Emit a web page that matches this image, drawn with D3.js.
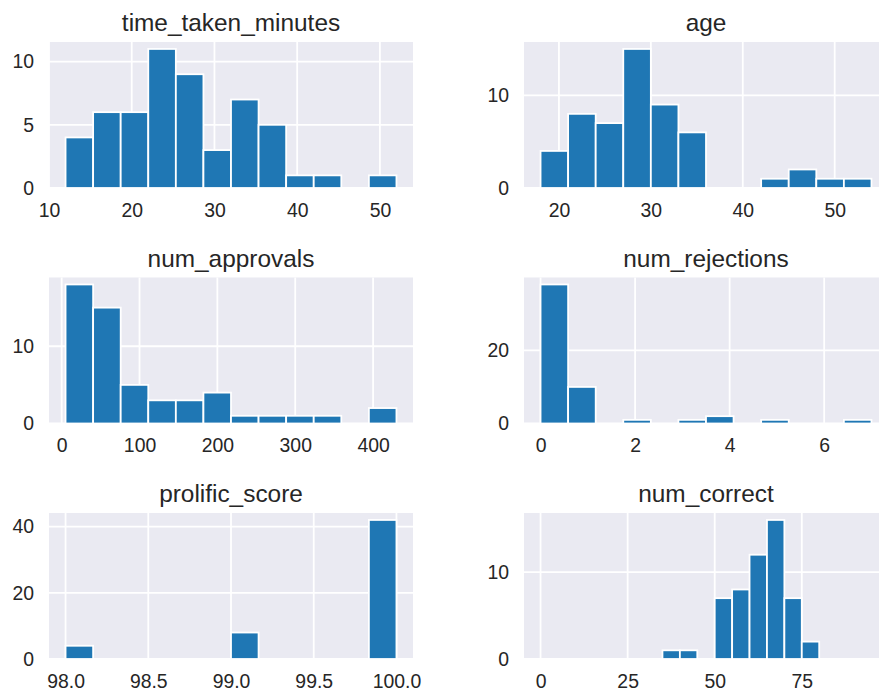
<!DOCTYPE html>
<html>
<head>
<meta charset="utf-8">
<script src="https://cdn.jsdelivr.net/npm/d3@7"></script>
<style>
  body { margin: 0; background: #fff; }
  svg { display: block; font-family: "Liberation Sans", Arial, sans-serif; }
  .tick text { fill: #262626; font-size: 19.4px; }
  .ttl { fill: #262626; font-size: 24.4px; }
</style>
</head>
<body>
<div id="chart"></div>
<script>
// histogram counts per column (12 bins, except num_correct: bins of 5 from 0 to 95)
var titles = ["time_taken_minutes", "age", "num_approvals", "num_rejections", "prolific_score", "num_correct"];

var timeCounts = [4, 6, 6, 11, 9, 3, 7, 5, 1, 1, 0, 1];
var ageCounts = [4, 8, 7, 15, 9, 6, 0, 0, 1, 2, 1, 1];
var approvalCounts = [18, 15, 5, 3, 3, 4, 1, 1, 1, 1, 0, 2];
var rejectionCounts = [38, 10, 0, 1, 0, 1, 2, 0, 1, 0, 0, 1];
var scoreCounts = [4, 0, 0, 0, 0, 0, 8, 0, 0, 0, 0, 42];
var correctCounts = [0, 0, 0, 0, 0, 0, 0, 1, 1, 0, 7, 8, 12, 16, 7, 2, 0, 0, 0];

// first and last bin edge of each column
var timeRange = [12, 52];
var ageRange = [18, 54];
var approvalRange = [5, 430];
var rejectionRange = [0, 7];
var scoreRange = [98, 100];
var correctRange = [0, 95];

// tick labels
var timeXTicks = [10, 20, 30, 40, 50], timeYTicks = [0, 5, 10];
var ageXTicks = [20, 30, 40, 50], ageYTicks = [0, 10];
var approvalXTicks = [0, 100, 200, 300, 400], approvalYTicks = [0, 10];
var rejectionXTicks = [0, 2, 4, 6], rejectionYTicks = [0, 20];
var scoreXTicks = [98, 98.5, 99, 99.5, 100], scoreYTicks = [0, 20, 40];
var correctXTicks = [0, 25, 50, 75], correctYTicks = [0, 10];

var counts = [timeCounts, ageCounts, approvalCounts, rejectionCounts, scoreCounts, correctCounts];
var ranges = [timeRange, ageRange, approvalRange, rejectionRange, scoreRange, correctRange];
var xTicks = [timeXTicks, ageXTicks, approvalXTicks, rejectionXTicks, scoreXTicks, correctXTicks];
var yTicks = [timeYTicks, ageYTicks, approvalYTicks, rejectionYTicks, scoreYTicks, correctYTicks];
var xFormats = [d3.format("d"), d3.format("d"), d3.format("d"), d3.format("d"), d3.format(".1f"), d3.format("d")];

var W = 879, H = 695;
var colX = [49, 524], rowY = [42, 277.5, 513];
var pw = 364, ph = 146;

var svg = d3.select("#chart")
  .append("svg")
  .attr("width", W)
  .attr("height", H);

svg.append("rect").attr("width", W).attr("height", H).attr("fill", "#fff");

titles.forEach(function(name, i) {
  var c = counts[i], r = ranges[i];
  var step = (r[1] - r[0]) / c.length;
  var bins = c.map(function(v, j) { return {x0: r[0] + j * step, x1: r[0] + (j + 1) * step, n: v}; });
  var span = r[1] - r[0];

  var x = d3.scaleLinear()
    .domain([r[0] - span * 0.05, r[1] + span * 0.05])
    .range([0, pw]);
  var y = d3.scaleLinear()
    .domain([0, d3.max(c) * 1.05])
    .range([ph, 0]);

  var g = svg.append("g")
    .attr("transform", "translate(" + colX[i % 2] + "," + rowY[Math.floor(i / 2)] + ")");

  g.append("rect")
    .attr("width", pw)
    .attr("height", ph)
    .attr("fill", "#EAEAF2");

  g.selectAll(".vgrid")
    .data(xTicks[i])
    .enter()
    .append("line")
    .attr("x1", function(d) { return x(d); })
    .attr("x2", function(d) { return x(d); })
    .attr("y1", 0).attr("y2", ph)
    .attr("stroke", "#fff").attr("stroke-width", 1.8);

  g.selectAll(".hgrid")
    .data(yTicks[i])
    .enter()
    .append("line")
    .attr("x1", 0).attr("x2", pw)
    .attr("y1", function(d) { return y(d); })
    .attr("y2", function(d) { return y(d); })
    .attr("stroke", "#fff").attr("stroke-width", 1.8);

  g.selectAll(".bar")
    .data(bins)
    .enter()
    .append("rect")
    .attr("x", function(d) { return x(d.x0); })
    .attr("width", function(d) { return x(d.x1) - x(d.x0); })
    .attr("y", function(d) { return y(d.n); })
    .attr("height", function(d) { return y(0) - y(d.n); })
    .attr("fill", "#1f77b4")
    .attr("stroke", "#fff")
    .attr("stroke-width", 1.8);

  var xa = g.append("g")
    .attr("transform", "translate(0," + ph + ")")
    .call(d3.axisBottom(x).tickValues(xTicks[i]).tickFormat(xFormats[i]).tickSize(0).tickPadding(15));
  var ya = g.append("g")
    .call(d3.axisLeft(y).tickValues(yTicks[i]).tickFormat(d3.format("d")).tickSize(0).tickPadding(15));
  xa.select(".domain").remove();
  ya.select(".domain").remove();
  xa.selectAll("text").attr("font-family", null).attr("font-size", null);
  ya.selectAll("text").attr("font-family", null).attr("font-size", null);

  g.append("text")
    .attr("class", "ttl")
    .attr("x", pw / 2)
    .attr("y", -11)
    .attr("text-anchor", "middle")
    .text(name);
});
</script>
</body>
</html>
